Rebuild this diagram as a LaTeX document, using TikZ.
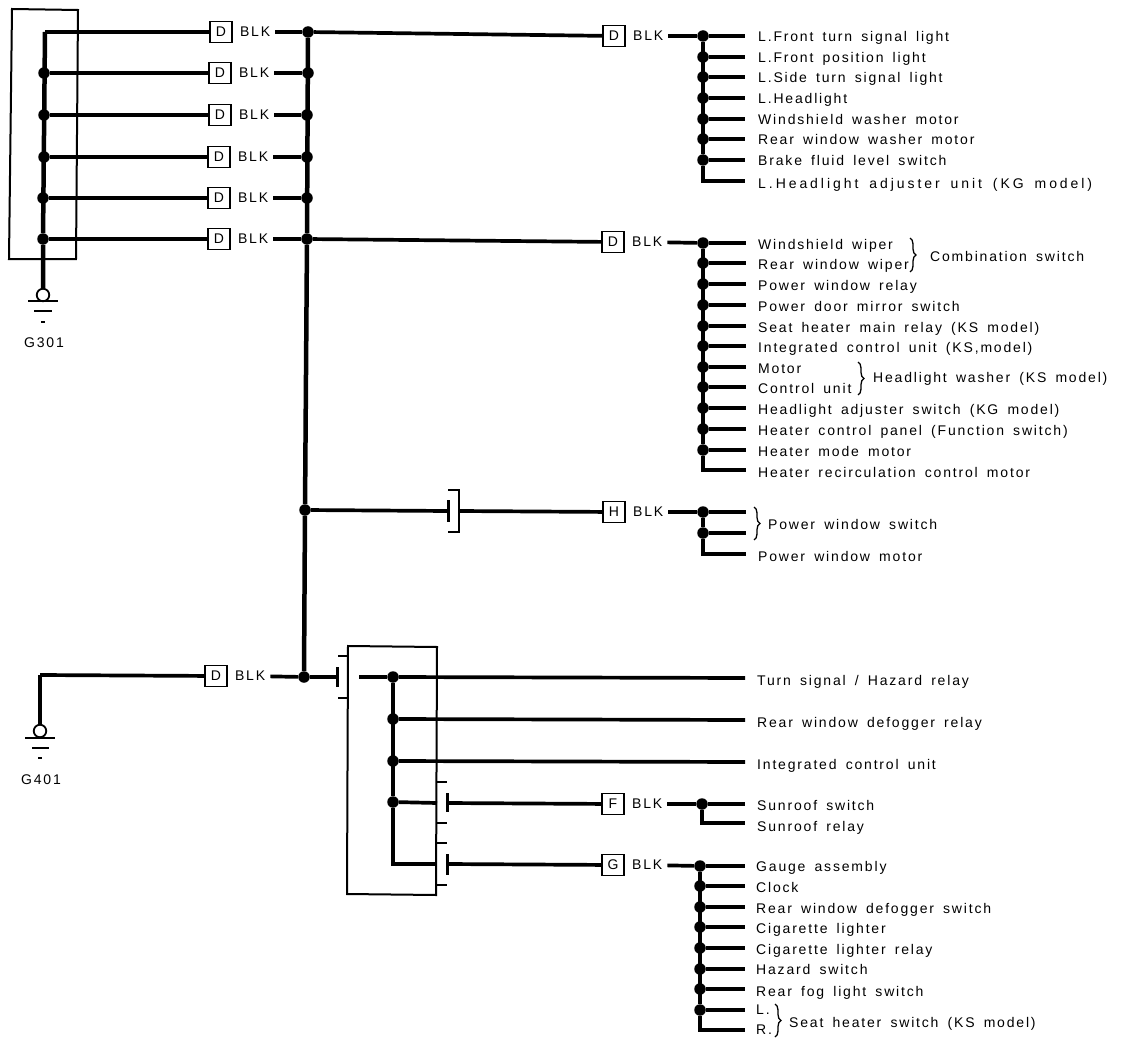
\documentclass[tikz,border=0pt]{standalone}
\usepackage{fontspec}
\setmainfont{Liberation Sans}[LetterSpace=13,WordSpace=1.6]
\usetikzlibrary{positioning,decorations.pathreplacing}
\tikzset{
  wire/.style={line width=3.7pt,line join=miter},
  thinwire/.style={line width=2pt},
  busbar/.style={line width=4.5pt},
  jdot/.style={circle,fill=black,inner sep=0pt,minimum size=11.5pt},
  conbox/.style={draw,line width=1.8pt,fill=white,minimum width=22pt,minimum height=21pt,inner sep=0pt,font=\fontsize{14}{16}\selectfont},
  blk/.style={inner xsep=5pt,inner ysep=0pt,font=\fontsize{14}{16}\selectfont},
  lbl/.style={anchor=west,inner sep=0pt,text height=10pt,text depth=0pt,font=\fontsize{14}{16}\selectfont},
  bracket/.style={line width=1.3pt,decorate,decoration={brace,amplitude=6pt}},
  earth/.style={circle,draw,line width=1.8pt,fill=white,minimum size=12.5pt,inner sep=0pt}
}
\begin{document}
\begin{tikzpicture}[x=1pt,y=-1pt]
\useasboundingbox (0,0) rectangle (1130,1038);
%junction blocks
        \draw[thinwire] (12,9) -- (78,10) -- (76,259) -- (9,259) -- cycle;
        \draw[thinwire] (348,646) -- (437,647) -- (436,895) -- (347,894) -- cycle;
%left rows
        \coordinate (lc1) at (45,32);
        \foreach \y/\xl/\xb/\xr [count=\i] in {32/45/221/308,73/44/220/308,115/44/220/307,157/44/219/307,198/43/219/307,239/43/219/307} {
          \node[jdot] (r\i) at (\xr,\y) {};
          \node[conbox] (d\i) at (\xb,\y) {D};
          \node[blk,right=2pt of d\i] (b\i) {BLK};
          \draw[wire] (b\i) -- (r\i);
        }
        \draw[wire] (d1) -- (lc1);
        \foreach \y/\xl [count=\i from 2] in {73/44,115/44,157/44,198/43,239/43} {
          \node[jdot] (l\i) at (\xl,\y) {};
          \draw[wire] (l\i) -- (d\i);
        }
%ground 301
        \node[earth] (g1) at (43,295) {};
        \draw[busbar] (lc1) -- (l6) -- (g1);
        \coordinate (g1a) at (28,301); \coordinate (g1b) at (58,301);
        \coordinate (g1c) at (34,311); \coordinate (g1d) at (52,311);
        \coordinate (g1e) at (41,322); \coordinate (g1f) at (45,322);
        \draw[thinwire] (g1a) -- (g1b) (g1c) -- (g1d) (g1e) -- (g1f);
        \node[blk] (g1t) at (44,343) {G301};
%main bus
        \node[jdot] (m1) at (305,510) {};
        \node[jdot] (m2) at (304,677) {};
        \draw[busbar] (r1) -- (r6) -- (m1) -- (m2);
%front fan
        \node[conbox] (e1) at (614,36) {D};
        \node[blk,right=2pt of e1] (f1) {BLK};
        \draw[wire] (r1) -- (e1);
        \foreach \y/\txt [count=\i] in {36/L.Front turn signal light,57/L.Front position light,77/L.Side turn signal light,98/L.Headlight,119/Windshield washer motor,139/Rear window washer motor,160/Brake fluid level switch} {
          \node[jdot] (a\i) at (703,\y) {};
          \coordinate (ae\i) at (745,\y);
          \draw[wire] (a\i) -- (ae\i);
          \node[lbl] (at\i) at (758,\y+1) {\txt};
        }
        \coordinate (ae8) at (745,181);
        \node[lbl] (at8) at (758,183) {\addfontfeature{LetterSpace=21}L.Headlight adjuster unit (KG model)};
        \draw[wire] (f1) -- (a1);
        \draw[busbar] (a1) -- (a7) |- (ae8);
%middle fan
        \node[conbox] (e2) at (613,242) {D};
        \node[blk,right=2pt of e2] (f2) {BLK};
        \draw[wire] (r6) -- (e2);
        \foreach \y/\txt [count=\i] in {243/Windshield wiper,263/Rear window wiper,284/Power window relay,305/Power door mirror switch,326/Seat heater main relay (KS model),346/{Integrated control unit (KS,model)},367/Motor,387/Control unit,408/Headlight adjuster switch (KG model),429/Heater control panel (Function switch),450/Heater mode motor} {
          \node[jdot] (c\i) at (703,\y) {};
          \coordinate (ce\i) at (746,\y);
          \draw[wire] (c\i) -- (ce\i);
          \node[lbl] (ct\i) at (758,\y+1.5) {\txt};
        }
        \coordinate (ce12) at (746,470);
        \node[lbl] (ct12) at (758,472) {Heater recirculation control motor};
        \draw[wire] (f2) -- (c1);
        \draw[busbar] (c1) -- (c11) |- (ce12);
        \draw[bracket] (910,238) -- (910,272);
        \node[lbl] (ct13) at (930,256) {Combination switch};
        \draw[bracket] (858,362) -- (858,395);
        \node[lbl] (ct14) at (873,377) {Headlight washer (KS model)};
%window branch
        \coordinate (wb1) at (448,500); \coordinate (wb2) at (448,522);
        \coordinate (wb3) at (448,511);
        \draw[wire] (m1) -- (wb3);
        \draw[line width=3pt] (wb1) -- (wb2);
        \coordinate (wk1) at (448,490); \coordinate (wk2) at (448,532);
        \draw[thinwire] (wk1) -| (459,532) -- (wk2);
        \node[conbox] (e3) at (614,512) {H};
        \node[blk,right=2pt of e3] (f3) {BLK};
        \coordinate (wk3) at (459,511);
        \draw[wire] (wk3) -- (e3);
        \node[jdot] (h1) at (703,512) {};
        \node[jdot] (h2) at (703,533) {};
        \coordinate (he1) at (746,512); \coordinate (he2) at (746,533); \coordinate (he3) at (746,554);
        \draw[wire] (f3) -- (h1);
        \draw[wire] (h1) -- (he1);
        \draw[wire] (h2) -- (he2);
        \draw[busbar] (h1) -- (h2) |- (he3);
        \draw[bracket] (754,507) -- (754,540);
        \node[lbl] (ht1) at (768,524) {Power window switch};
        \node[lbl] (ht2) at (758,556) {Power window motor};
%ground 401
        \node[conbox] (d7) at (216,676) {D};
        \node[blk,right=2pt of d7] (b7) {BLK};
        \node[earth] (g2) at (40,731) {};
        \coordinate (gc) at (40,675);
        \draw[wire] (d7) -- (gc);
        \draw[busbar] (gc) -- (g2);
        \coordinate (g2a) at (25,738); \coordinate (g2b) at (55,738);
        \coordinate (g2c) at (32,748); \coordinate (g2d) at (49,748);
        \coordinate (g2e) at (38,758); \coordinate (g2f) at (42,758);
        \draw[thinwire] (g2a) -- (g2b) (g2c) -- (g2d) (g2e) -- (g2f);
        \node[blk] (g2t) at (41,780) {G401};
        \draw[wire] (b7) -- (m2);
%lower block
        \coordinate (p1) at (337,677);
        \coordinate (p1a) at (337,667); \coordinate (p1b) at (337,687);
        \draw[wire] (m2) -- (p1);
        \draw[line width=3pt] (p1a) -- (p1b);
        \foreach \ya/\xa/\xb in {656/338/348,698/338/348,782/437/447,823/437/447,843/437/447,885/437/447} {
          \draw[thinwire] (\xa,\ya) -- (\xb,\ya);
        }
        \coordinate (q0) at (359,677);
        \foreach \y/\txt [count=\i] in {677/{Turn signal / Hazard relay},719/Rear window defogger relay,761/Integrated control unit} {
          \node[jdot] (q\i) at (393,\y) {};
          \coordinate (qe\i) at (745,\y+1);
          \draw[wire] (q\i) -- (qe\i);
          \node[lbl] (qt\i) at (757,\y+3) {\txt};
        }
        \draw[wire] (q0) -- (q1);
        \node[jdot] (q4) at (393,802) {};
        \coordinate (qe4) at (437,803); \coordinate (qe5) at (437,864);
        \draw[wire] (q4) -- (qe4);
        \draw[busbar] (q1) -- (q4) |- (qe5);
%sunroof fan
        \coordinate (s1a) at (447,793); \coordinate (s1b) at (447,812); \coordinate (s1c) at (447,803);
        \draw[line width=3pt] (s1a) -- (s1b);
        \node[conbox] (e4) at (613,804) {F};
        \node[blk,right=2pt of e4] (f4) {BLK};
        \draw[wire] (s1c) -- (e4);
        \node[jdot] (s1) at (702,804) {};
        \coordinate (se1) at (745,804); \coordinate (se2) at (745,823);
        \draw[wire] (f4) -- (s1);
        \draw[wire] (s1) -- (se1);
        \draw[busbar] (s1) |- (se2);
        \node[lbl] (st1) at (757,805) {Sunroof switch};
        \node[lbl] (st2) at (757,826) {Sunroof relay};
%gauge fan
        \coordinate (t1a) at (447,854); \coordinate (t1b) at (447,875); \coordinate (t1c) at (447,864);
        \draw[line width=3pt] (t1a) -- (t1b);
        \node[conbox] (e5) at (613,865) {G};
        \node[blk,right=2pt of e5] (f5) {BLK};
        \draw[wire] (t1c) -- (e5);
        \foreach \y/\yt/\txt [count=\i] in {866/866/Gauge assembly,886/887/Clock,907/908/Rear window defogger switch,927/928/Cigarette lighter,948/949/Cigarette lighter relay,969/969/Hazard switch,989/991/Rear fog light switch,1010/1009/L.} {
          \node[jdot] (u\i) at (700,\y) {};
          \coordinate (ue\i) at (745,\y);
          \draw[wire] (u\i) -- (ue\i);
          \node[lbl] (ut\i) at (756,\yt) {\txt};
        }
        \coordinate (ue9) at (745,1030);
        \node[lbl] (ut9) at (756,1029) {R.};
        \draw[wire] (f5) -- (u1);
        \draw[busbar] (u1) -- (u8) |- (ue9);
        \draw[bracket] (775,1004) -- (775,1037);
        \node[lbl] (ut10) at (789,1022) {Seat heater switch (KS model)};
    \end{tikzpicture}
\end{document}
